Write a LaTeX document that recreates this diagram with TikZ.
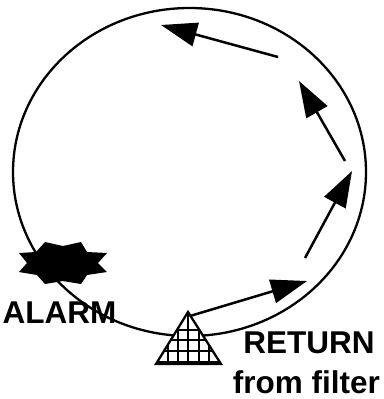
\documentclass[tikz,border=0pt]{standalone}
\usepackage{fontspec}
\setmainfont{Liberation Sans}
\usetikzlibrary{arrows.meta}
\tikzset{
  flow/.style={line width=2.5pt,-{Triangle[length=36pt,width=24pt]},shorten >=0pt},
  lbl/.style={font=\fontsize{31.5}{36}\selectfont\bfseries,inner sep=0pt,align=center,anchor=base},
  grid line/.style={line width=1.3pt}
}
\begin{document}
\begin{tikzpicture}[x=1pt,y=-1pt]
\useasboundingbox (0,0) rectangle (383,399);
% loop
\draw[line width=2.3pt] (189.5,172) ellipse [x radius=176.5,y radius=164];
% alarm star
\fill (45,242) -- (63,246) -- (81,242) -- (87,252) -- (107,253) -- (98,263) -- (107,272) -- (87,275) -- (81,284) -- (63,281) -- (45,284) -- (37,275) -- (19,272) -- (27,263) -- (19,253) -- (36,252) -- cycle;
\node[lbl] (alarm) at (59.5,323) {ALARM};
% filter triangle
\fill[white] (188,312) -- (156,364) -- (221,364) -- cycle;
\begin{scope}
\clip (188,312) -- (156,364) -- (221,364) -- cycle;
\foreach \gx in {168,178,188,199,209} \draw[grid line] (\gx,305) -- (\gx,370);
\foreach \gy in {330,340,351,362} \draw[grid line] (150,\gy) -- (230,\gy);
\end{scope}
\draw[line width=2.3pt,line join=miter] (188,312) -- (156,364) -- (221,364) -- cycle;
% arrows
\coordinate (a1) at (190,316); \coordinate (b1) at (307,281);
\coordinate (a2) at (305,258); \coordinate (b2) at (352,171);
\coordinate (a3) at (345,161); \coordinate (b3) at (299,81);
\coordinate (a4) at (278,57);  \coordinate (b4) at (161,25);
\draw[flow] (a1) -- (b1);
\draw[flow] (a2) -- (b2);
\draw[flow] (a3) -- (b3);
\draw[flow] (a4) -- (b4);
\node[lbl] (ret) at (309,353) {RETURN};
\node[lbl] (from) at (306.5,393) {from filter};
\end{tikzpicture}
\end{document}
